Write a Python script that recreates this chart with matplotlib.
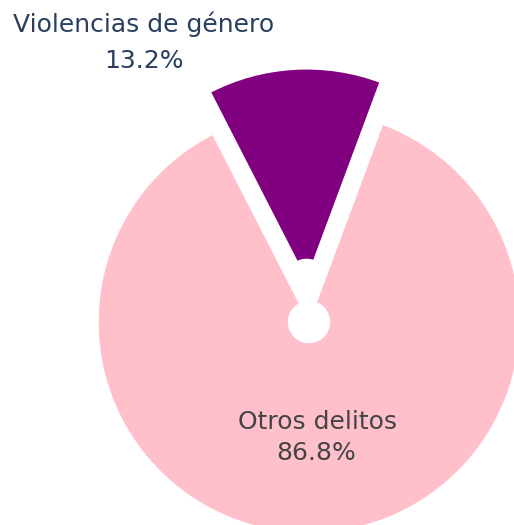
import matplotlib
matplotlib.use("Agg")
import matplotlib.pyplot as plt

labels = ["Violencias de género", "Otros delitos"]
values = [13.2, 86.8]
colors = ["purple", "pink"]
pull = [0.2, 0.0]

W, H = 514, 525
fig = plt.figure(figsize=(W / 100, H / 100), dpi=100)
ax = fig.add_axes([0, 0, 1, 1])

cx, cy, R, hole = 309, H - 322, 211, 20.5
ax.pie(values, colors=colors, explode=[p * R for p in pull], startangle=69.6,
       counterclock=True, center=(cx, cy), radius=R,
       wedgeprops=dict(width=R - hole, edgecolor="white", linewidth=1))
ax.set_xlim(0, W)
ax.set_ylim(0, H)
ax.set_aspect("equal")
ax.axis("off")

total = sum(values)
pct = [f"{v / total * 100:.1f}%" for v in values]

fs = 18
ax.text(144, H - 32, labels[0], ha="center", va="baseline", fontsize=fs,
        color="#2a3f5f", family="DejaVu Sans")
ax.text(144, H - 68, pct[0], ha="center", va="baseline", fontsize=fs,
        color="#2a3f5f", family="DejaVu Sans")
ax.text(317, H - 429, labels[1], ha="center", va="baseline", fontsize=fs,
        color="#444444", family="DejaVu Sans")
ax.text(316, H - 460, pct[1], ha="center", va="baseline", fontsize=fs,
        color="#444444", family="DejaVu Sans")

fig.savefig("out.png", dpi=100)
